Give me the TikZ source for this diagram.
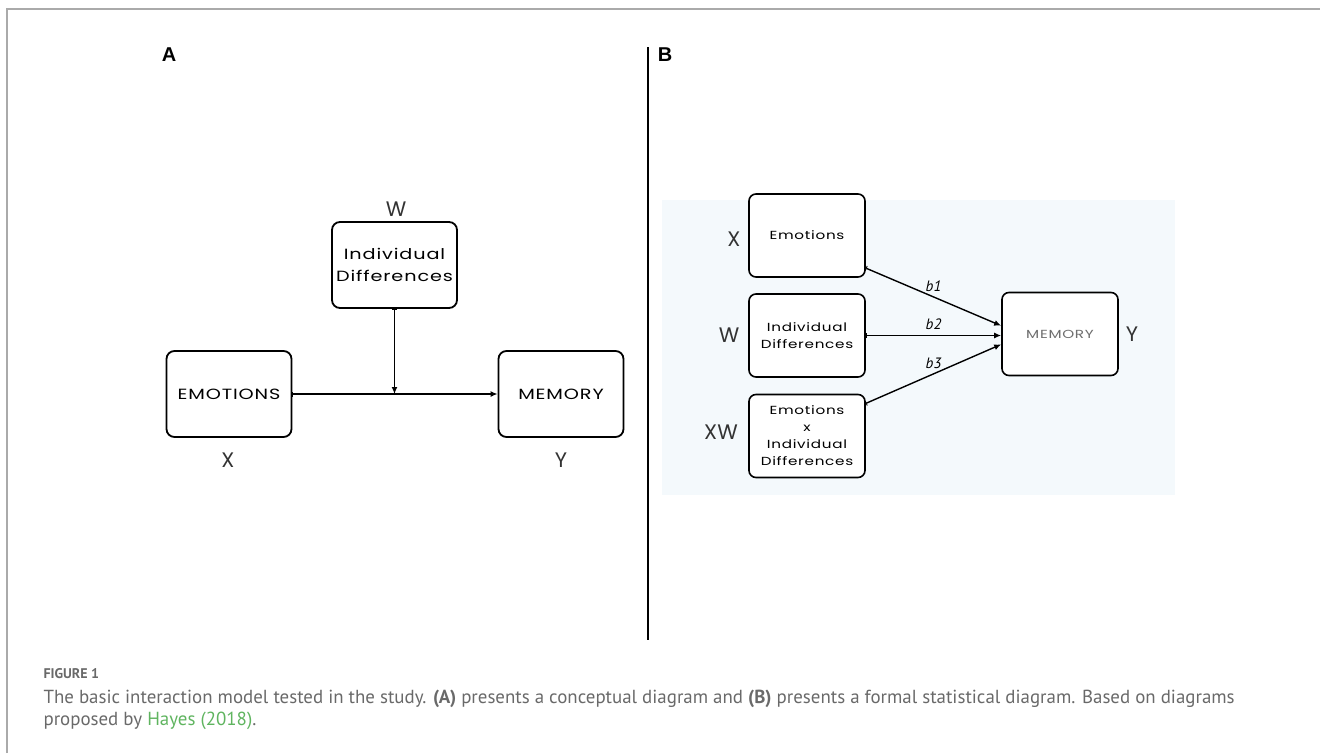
\documentclass[tikz,border=0pt]{standalone}
\usepackage{fontspec}
\setmainfont{PT Sans}
\newfontfamily\boxfont[FakeStretch=1.3,LetterSpace=6]{Poppins}
\newfontfamily\varfont{Poppins}
\newfontfamily\panelfont{Liberation Sans}
\usetikzlibrary{arrows.meta, calc, positioning}
\definecolor{capgray}{RGB}{105,105,105}
\definecolor{hayesgreen}{RGB}{95,180,95}
\definecolor{bgblue}{RGB}{244,249,252}
\definecolor{framegray}{RGB}{170,170,170}
\definecolor{memgray}{RGB}{110,110,110}

\begin{document}
\begin{tikzpicture}[x=1pt, y=-1pt]
   \tikzstyle{abox}=[rectangle, draw, line width=1.8pt, rounded corners=8pt, minimum width=125pt, minimum height=86pt, inner sep=0pt, align=center, fill=white, font=\boxfont\fontsize{14.8}{22}\selectfont]
   \tikzstyle{bbox}=[rectangle, draw, line width=1.6pt, rounded corners=7pt, minimum width=116pt, minimum height=83pt, inner sep=0pt, align=center, fill=white, font=\boxfont\fontsize{11.7}{17}\selectfont]
   \tikzstyle{vlabel}=[font=\varfont\fontsize{21}{21}\selectfont, text=black!80]
   \tikzstyle{blabel}=[font=\itshape\fontsize{15}{15}\selectfont, inner sep=5pt]
   \tikzstyle{link}=[line width=1.4pt, {Bar[width=5pt,line width=0.9pt]}-{Latex[length=7pt,width=6pt]}]

   \useasboundingbox (0,0) rectangle (1320,753);
   % frame
   \draw[framegray, line width=1.5pt] (7,753) -- (7,9) -- (1320,9);
   % panel letters and divider
   \draw (169,55) node[font=\panelfont\bfseries\fontsize{20}{20}\selectfont] (pA) {A};
   \draw (665,55) node[font=\panelfont\bfseries\fontsize{20}{20}\selectfont] (pB) {B};
   \draw[line width=2.5pt] (648,47) coordinate (divtop) -- (648,640) coordinate (divbot);

   % Panel A nodes
   \draw (394.5,265) node[abox] (idA) {Individual\\Differences};
   \draw (229,394) node[abox] (emoA) {EMOTIONS};
   \draw (561,394) node[abox] (memA) {MEMORY};
   \draw (396,209) node[vlabel] (wA) {W};
   \draw (228,460) node[vlabel] (xA) {X};
   \draw (561,460) node[vlabel] (yA) {Y};
   % Panel A connections
   \coordinate (jA) at (idA.south |- emoA.east);
   \draw[link] (emoA.east) -- (memA.west);
   \draw[link] (idA.south) -- (jA);

   % Panel B background
   \fill[bgblue] (662,200) rectangle (1175,495);
   % Panel B nodes
   \draw (807,235.5) node[bbox] (emoB) {Emotions};
   \draw (807,335.5) node[bbox] (idB) {Individual\\Differences};
   \draw (807,436) node[bbox] (xwB) {Emotions\\x\\Individual\\Differences};
   \draw (1060,334) node[bbox, text=memgray] (memB) {MEMORY};
   \draw (734,239) node[vlabel] (xB) {X};
   \draw (729,335) node[vlabel] (wB) {W};
   \draw (721,432) node[vlabel] (xwlB) {XW};
   \draw (1132,334) node[vlabel] (yB) {Y};
   % Panel B paths
   \draw[link] (emoB.-29) -- node[blabel, above] {b1} (memB.172);
   \draw[link] (idB.east) -- node[blabel, above] {b2} (idB.east -| memB.west);
   \draw[link] (xwB.29) -- node[blabel, above] {b3} (memB.190);

   % Caption
   \draw (40,678) node[anchor=base west, text=capgray, font=\bfseries\fontsize{14}{14}\selectfont] (figno) {FIGURE 1};
   \draw (40,703) node[anchor=base west, text=capgray, font=\fontsize{18.9}{18.9}\selectfont] (cap1) {The basic interaction model tested in the study. \textbf{(A)} presents a conceptual diagram and \textbf{(B)} presents a formal statistical diagram. Based on diagrams};
   \draw (40,725) node[anchor=base west, text=capgray, font=\fontsize{18.9}{18.9}\selectfont] (cap2) {proposed by \textcolor{hayesgreen}{Hayes (2018)}.};
\end{tikzpicture}
\end{document}
